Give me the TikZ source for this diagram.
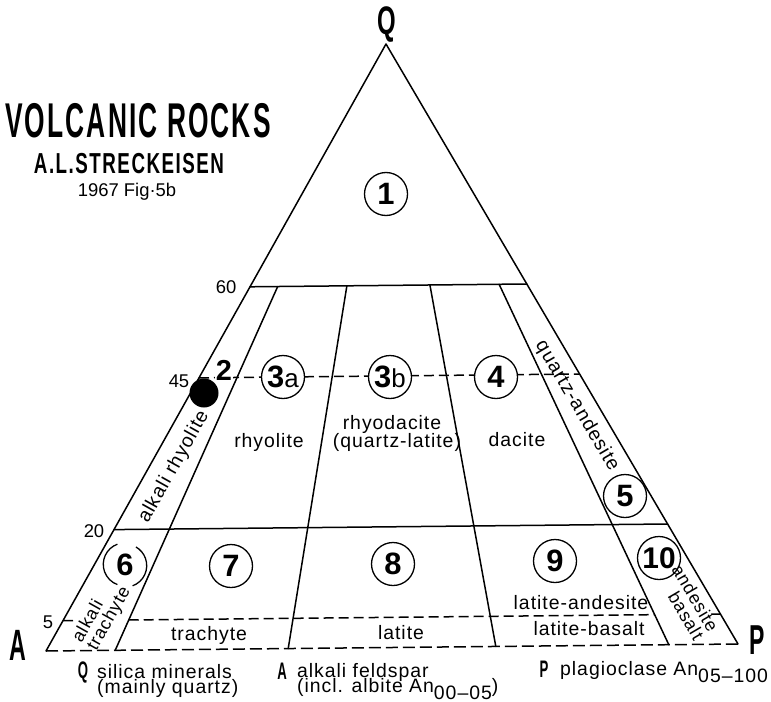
\documentclass[tikz,border=0pt]{standalone}
\usepackage{fontspec}
\usepackage{graphicx}
\setmainfont{Liberation Sans}
\newfontfamily\labfont[LetterSpace=5]{Liberation Sans}
\newfontfamily\ttlfont[LetterSpace=8]{Liberation Sans}
\usetikzlibrary{calc}
\newcommand{\cnd}[3]{\scalebox{#1}[1]{\fontsize{#2}{#2}\selectfont\bfseries #3}}
\newcommand{\cndt}[3]{\scalebox{#1}[1]{\ttlfont\fontsize{#2}{#2}\selectfont\bfseries #3}}
\begin{document}
\begin{tikzpicture}[x=1bp,y=-1bp,
  edge/.style={line width=1.5bp, line join=round, line cap=round},
  dashline/.style={line width=1.5bp, dash pattern=on 10bp off 5bp},
  cnum/.style={circle, draw, line width=1.3bp, fill=white, minimum size=43bp, inner sep=0pt, font=\fontsize{31}{31}\selectfont\bfseries},
  lab/.style={font=\labfont\fontsize{19.5}{18}\selectfont, inner sep=0pt, anchor=base},
  ticklab/.style={font=\fontsize{18.5}{18}\selectfont, inner sep=0pt, anchor=base},
  bigl/.style={inner sep=0pt, anchor=base},
]
\useasboundingbox (0,0) rectangle (771,702);
\fill[white] (0,0) rectangle (771,702);

% vertices
\coordinate (A) at (46,651);
\coordinate (P) at (738,644);
\coordinate (Q) at (386,44);
% base points
\coordinate (b1) at ($(A)!0.10!(P)$);
\coordinate (b2) at ($(A)!0.35!(P)$);
\coordinate (b3) at ($(A)!0.65!(P)$);
\coordinate (b4) at ($(A)!0.90!(P)$);
% points on the 60 level
\coordinate (t1) at ($(b1)!0.6!(Q)$);
\coordinate (t2) at ($(b2)!0.6!(Q)$);
\coordinate (t3) at ($(b3)!0.6!(Q)$);
\coordinate (t4) at ($(b4)!0.6!(Q)$);
% level lines
\coordinate (L60) at ($(A)!0.60!(Q)$);
\coordinate (R60) at ($(P)!0.60!(Q)$);
\coordinate (L45) at ($(A)!0.45!(Q)$);
\coordinate (R45) at ($(P)!0.45!(Q)$);
\coordinate (L20) at ($(A)!0.20!(Q)$);
\coordinate (R20) at ($(P)!0.20!(Q)$);
\coordinate (L5) at ($(A)!0.05!(Q)$);
\coordinate (R5) at ($(P)!0.05!(Q)$);
\coordinate (m1) at ($(b1)!0.05!(Q)$);
\coordinate (m4) at ($(b4)!0.05!(Q)$);

% lines
\draw[dashline, dash pattern=on 12bp off 5bp] (A) -- (P);
\draw[edge] (A) -- (Q) -- (P);
\draw[edge] (L60) -- (R60);
\draw[edge] (L20) -- (R20);
\draw[edge] (t1) -- (b1);
\draw[edge] (t2) -- (b2);
\draw[edge] (t3) -- (b3);
\draw[edge] (t4) -- (b4);
\draw[dashline] (L45) -- (R45);
\draw[dashline] (L5) -- ($(L5)!11bp!(R5)$);
\draw[dashline] (m1) -- (m4);
\draw[edge] ($(R5)!9bp!(L5)$) -- (R5);

% circled numbers
\node[cnum] (c1) at (386,194) {1};
\node[cnum] (c3a) at (283,377) {3{\fontsize{26}{26}\selectfont\mdseries a}};
\node[cnum] (c3b) at (390,377) {3{\fontsize{26}{26}\selectfont\mdseries b}};
\node[cnum] (c4) at (496,377) {4};
\node[cnum] (c5) at (625,496) {5};
\node[cnum, draw=none, fill=none] (c6) at (125,565) {6};
\draw[line width=1.3bp] (c6.110) arc[start angle=110, end angle=250, radius=21.5bp];
\draw[line width=1.3bp] (c6.-70) arc[start angle=-70, end angle=60, radius=21.5bp];
\node[cnum] (c7) at (231,566) {7};
\node[cnum] (c8) at (393,564) {8};
\node[cnum] (c9) at (555,561) {9};
\node[cnum, font=\fontsize{30}{30}\selectfont\bfseries] (c10) at (659,558) {10};

% field 2 and dot
\node[bigl, fill=white, inner sep=1bp, font=\fontsize{29}{29}\selectfont\bfseries] (n2) at (224,380) {2};
\node[circle, fill=black, minimum size=29bp, inner sep=0pt] (dot) at (204,393) {};

% field names
\node[lab] (rhy) at (269,447) {rhyolite};
\node[lab] (rhd) at (392,429) {rhyodacite};
\node[lab] (qla) at (397,447) {(quartz-latite)};
\node[lab] (dac) at (517,446) {dacite};
\node[lab] (tra) at (209,640) {trachyte};
\node[lab] (lat) at (401,639) {latite};
\node[lab] (laa) at (581,609) {latite-andesite};
\node[lab] (lbs) at (589,635) {latite-basalt};
\node[lab, anchor=center, rotate=60.75] (ar) at (174,467) {alkali rhyolite};
\node[lab, anchor=center, rotate=-59.6] (qa) at (577,406) {quartz-andesite};
\node[lab, font=\labfont\fontsize{18}{17}\selectfont, anchor=center, rotate=60.75, align=left] (at) at (102,615) {alkali\\trachyte};
\node[lab, font=\labfont\fontsize{18}{17}\selectfont, anchor=center, rotate=-59.6, align=right] (ab) at (688,602) {andesite\\basalt};

% scale labels
\node[ticklab] (s60) at (226,293) {60};
\node[ticklab] (s45) at (179,387) {45};
\node[ticklab] (s20) at (94,537) {20};
\node[ticklab] (s5) at (48,628) {5};

% vertex labels
\node[bigl] (lQ) at (387,35) {\cnd{0.6}{40}{Q}};
\node[bigl] (lA) at (18,660) {\cnd{0.53}{44}{A}};
\node[bigl] (lP) at (757,654) {\cnd{0.55}{42}{P}};

% title
\node[bigl] (title) at (138,138) {\cndt{0.54}{49}{VOLCANIC ROCKS}};
\node[bigl] (auth) at (129,173) {\cndt{0.65}{29}{A.L.STRECKEISEN}};
\node[ticklab] (yr) at (127,196) {1967 Fig·5b};

% legend
\node[bigl] (gq) at (83,678) {\cnd{0.55}{24}{Q}};
\node[lab, anchor=base west] (gq1) at (97,678) {silica minerals};
\node[lab, anchor=base west] (gq2) at (97,693) {(mainly quartz)};
\node[bigl] (ga) at (282,679) {\cnd{0.55}{24}{A}};
\node[lab, anchor=base west] (ga1) at (297,677) {alkali feldspar};
\node[lab, anchor=base west] (ga2) at (297,692) {(incl. albite An\raisebox{-7bp}{00–05})};
\node[bigl] (gp) at (544,677) {\cnd{0.55}{24}{P}};
\node[lab, anchor=base west] (gp1) at (560,675) {plagioclase An\raisebox{-7bp}{05–100}};
\end{tikzpicture}
\end{document}
